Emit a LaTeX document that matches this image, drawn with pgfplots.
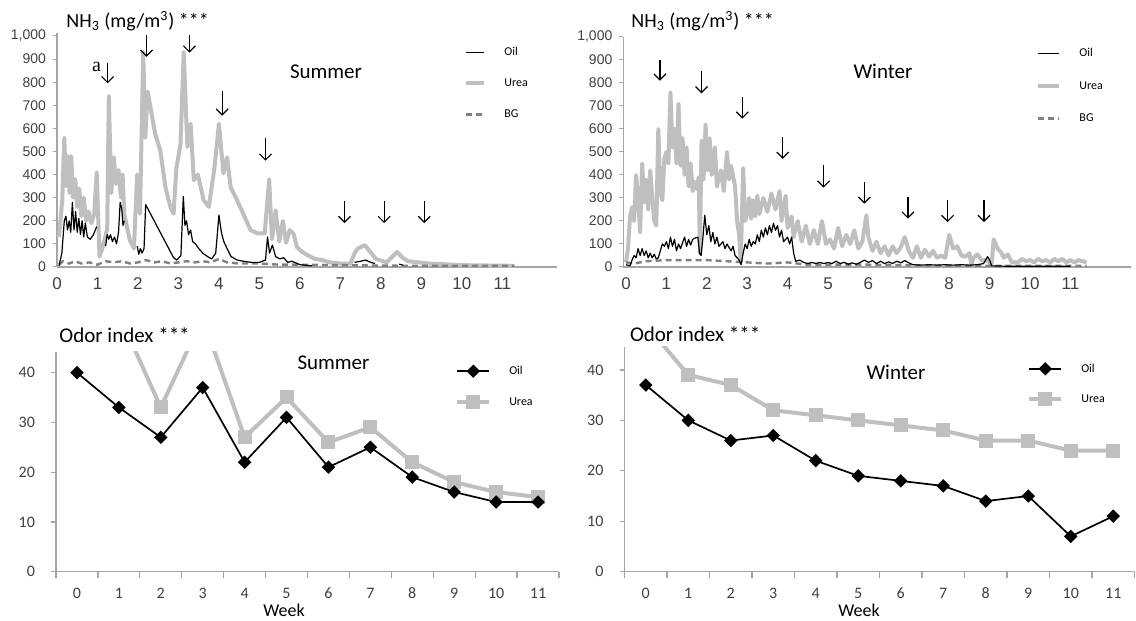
\documentclass[border=0pt]{standalone}
\usepackage{pgfplots}
\pgfplotsset{compat=1.18}
\usepackage{fontspec}
\setmainfont{Carlito}
\newfontfamily\arialf{Liberation Sans}
\newfontfamily\serff{Liberation Serif}
\usetikzlibrary{arrows.meta}
\definecolor{urea}{HTML}{BFBFBF}
\definecolor{bgc}{HTML}{808080}
\definecolor{axgray}{HTML}{A6A6A6}
\definecolor{txt}{HTML}{404040}

\tikzset{arr/.style={-{Straight Barb[length=3pt,width=6pt]}, line width=0.6pt, black}}
\pgfplotsset{
  legline/.initial=9pt,
  oilS/.style={black, line width=0.6pt, line join=round},
  ureaS/.style={urea, line width=2pt, line join=round},
  bgS/.style={bgc, line width=1.2pt, dash pattern=on 3pt off 2pt},
  nh3/.style={
    scale only axis, anchor=south west, clip=false,
    axis x line*=bottom, axis y line*=left,
    axis line style={axgray, line width=0.6pt},
    ymin=0, ytick={0,100,...,1000},
    xtick={0,...,11},
    major x tick style={draw=none},
    major y tick style={draw=axgray, line width=0.5pt},
    major tick length=2pt, tick align=outside,
    /pgf/number format/assume math mode=true,
    /pgf/number format/1000 sep={,},
    yticklabel style={font=\arialf\fontsize{7}{8}\selectfont, text=txt},
    xticklabel style={font=\arialf\fontsize{8.5}{9}\selectfont, text=txt},
    legend cell align=left,
    legend image code/.code={\draw[##1] (0pt,0pt) -- (\pgfkeysvalueof{/pgfplots/legline},0pt);},
    unbounded coords=jump,
  },
  odor/.style={
    scale only axis, anchor=south west, clip=true, clip marker paths=true,
    axis x line*=bottom, axis y line*=left,
    axis line style={axgray, line width=0.6pt},
    xmin=-0.5, xmax=11.5, ymin=0,
    ytick={0,10,...,40}, xtick={0,...,11},
    minor xtick={-0.5,0.5,...,11.5},
    major x tick style={draw=none},
    minor x tick style={draw=axgray, line width=0.6pt},
    major y tick style={draw=axgray, line width=0.6pt},
    major tick length=2.5pt, minor tick length=3pt, tick align=outside,
    /pgf/number format/assume math mode=true,
    yticklabel style={font=\fontsize{8}{9}\selectfont, text=txt, xshift=-4.5pt},
    xticklabel style={font=\fontsize{8}{9}\selectfont, text=txt, yshift=-2pt},
    legend cell align=left,
    legend image code/.code={\draw[mark repeat=2,mark phase=2,##1] plot coordinates {(0pt,0pt) (8pt,0pt) (16pt,0pt)};},
  },
  oilO/.style={black, line width=0.85pt, mark=square*, mark size=1.95pt, mark options={rotate=45, fill=black, solid}},
  ureaO/.style={urea, line width=2pt, mark=square*, mark size=2.5pt, mark options={fill=urea, solid}},
}

\begin{document}
\begin{tikzpicture}
\path[use as bounding box] (0,0) rectangle (568pt,310.5pt);

% ---------------- Summer NH3 ----------------
\begin{axis}[nh3, at={(28.5pt,177pt)}, width=250pt, height=117pt,
  xmin=0, xmax=12.35, ymax=1013,
  legend style={at={(axis description cs:0.814,0.940)}, anchor=north west, draw=none, fill=none,
    inner sep=0pt, row sep=10.5pt, column sep=9pt,
    nodes={inner sep=0pt, text height=4.2pt, text depth=0.8pt, font=\fontsize{6}{7}\selectfont}}]
\addlegendimage{oilS}\addlegendentry{Oil}
\addlegendimage{ureaS}\addlegendentry{Urea}
\addlegendimage{bgS}\addlegendentry{BG}
\addplot[ureaS, forget plot] table {
x y
0.05 130
0.13 290
0.18 560
0.22 350
0.27 480
0.31 320
0.35 480
0.40 300
0.45 380
0.50 260
0.55 340
0.60 220
0.66 300
0.72 200
0.78 240
0.85 190
0.92 230
0.98 410
1.05 45
1.12 80
1.24 165
1.28 740
1.34 320
1.40 475
1.46 360
1.52 420
1.58 300
1.62 400
1.66 230
1.72 180
1.80 115
1.90 80
1.98 400
2.05 230
2.13 930
2.18 560
2.24 760
2.32 680
2.42 580
2.55 505
2.68 345
2.80 260
2.88 230
2.95 430
3.05 530
3.13 930
3.22 520
3.30 620
3.38 375
3.48 400
3.62 290
3.75 260
3.89 430
4.00 620
4.11 405
4.20 475
4.29 345
4.42 300
4.60 230
4.78 160
4.96 145
5.13 145
5.24 380
5.31 120
5.40 245
5.49 110
5.58 200
5.66 105
5.75 160
5.84 145
5.93 85
6.06 65
6.20 50
6.37 35
6.55 30
6.73 20
7.00 15
7.25 15
7.35 60
7.43 80
7.60 95
7.74 65
7.88 35
8.14 20
8.40 65
8.54 40
8.67 25
9.20 15
10.00 8
11.30 5
};
\addplot[bgS, forget plot] table {
x y
0.05 10
0.15 25
0.30 15
0.45 25
0.60 15
0.80 20
1.00 10
1.20 25
1.40 20
1.60 25
1.80 15
2.00 20
2.20 30
2.40 20
2.60 25
2.80 15
3.00 20
3.20 25
3.40 20
3.60 25
3.80 20
4.00 35
4.20 20
4.50 15
5.00 15
5.50 10
6.00 10
7.00 8
8.00 6
9.00 5
10.00 5
11.30 5
};
\addplot[oilS, forget plot] table {
x y
0.05 5
0.12 60
0.18 200
0.22 220
0.26 160
0.30 200
0.34 150
0.38 280
0.42 160
0.46 240
0.50 150
0.54 210
0.58 140
0.62 200
0.66 130
0.70 190
0.75 130
0.82 120
0.90 140
0.98 175
1.00 nan
1.20 90
1.24 140
1.28 120
1.32 140
1.37 110
1.42 130
1.47 100
1.52 150
1.56 280
1.60 250
1.63 180
1.66 200
1.70 nan
1.98 90
2.02 55
2.06 80
2.10 60
2.15 80
2.19 270
2.88 40
2.96 30
3.06 50
3.12 305
3.16 180
3.20 200
3.25 140
3.30 160
3.35 110
3.42 100
3.50 80
3.60 60
3.72 45
3.82 35
3.92 60
4.00 225
4.06 150
4.12 110
4.20 80
4.30 45
4.45 30
4.60 25
4.80 20
5.00 20
5.15 30
5.20 130
5.25 60
5.32 95
5.40 45
5.50 35
5.60 40
5.70 20
5.80 25
6.00 10
6.30 5
6.50 nan
7.35 20
7.50 25
7.62 30
7.75 20
7.85 15
8.00 nan
8.45 12
8.55 8
};
\node[font=\serff\fontsize{10}{11}\selectfont] at (axis cs:0.98,867) {a};
\draw[arr] (axis cs:1.25,885) -- (axis cs:1.25,795);
\draw[arr] (axis cs:2.21,1005) -- (axis cs:2.21,910);
\draw[arr] (axis cs:3.27,1005) -- (axis cs:3.27,928);
\draw[arr] (axis cs:4.08,760) -- (axis cs:4.08,655);
\draw[arr] (axis cs:5.15,560) -- (axis cs:5.15,460);
\draw[arr] (axis cs:7.10,285) -- (axis cs:7.10,190);
\draw[arr] (axis cs:8.08,285) -- (axis cs:8.08,190);
\draw[arr] (axis cs:9.07,285) -- (axis cs:9.07,190);
\end{axis}

% ---------------- Winter NH3 ----------------
\begin{axis}[nh3, at={(311.7pt,177pt)}, width=253.8pt, height=115pt,
  xmin=-0.064, xmax=12.5, ymax=1000, legline=10.5pt,
  legend style={at={(axis description cs:0.813,0.952)}, anchor=north west, draw=none, fill=none,
    inner sep=0pt, row sep=11.25pt, column sep=9pt,
    nodes={inner sep=0pt, text height=4.2pt, text depth=0.8pt, font=\fontsize{6}{7}\selectfont}}]
\addlegendimage{oilS}\addlegendentry{Oil}
\addlegendimage{ureaS}\addlegendentry{Urea}
\addlegendimage{bgS}\addlegendentry{BG}
\addplot[ureaS, forget plot] table {
x y
0.00 20
0.05 80
0.10 220
0.15 260
0.20 200
0.25 400
0.30 300
0.35 150
0.40 450
0.45 280
0.50 380
0.55 250
0.60 420
0.65 300
0.70 200
0.75 180
0.80 600
0.85 330
0.90 290
0.95 470
1.00 500
1.05 450
1.10 760
1.15 520
1.20 600
1.25 450
1.30 710
1.35 440
1.40 560
1.45 400
1.50 520
1.55 350
1.60 450
1.65 330
1.70 370
1.75 340
1.80 390
1.83 60
1.87 550
1.92 380
1.97 620
2.02 420
2.07 560
2.12 400
2.20 520
2.25 350
2.35 420
2.42 330
2.50 500
2.55 380
2.60 440
2.70 350
2.75 200
2.80 140
2.84 20
2.90 430
2.95 200
3.00 230
3.05 300
3.10 210
3.15 290
3.20 220
3.25 310
3.30 230
3.40 300
3.50 240
3.60 320
3.70 250
3.80 330
3.85 200
3.95 310
4.00 170
4.10 220
4.15 130
4.25 200
4.35 110
4.45 180
4.55 100
4.65 160
4.75 100
4.85 200
4.95 100
5.05 120
5.15 80
5.25 170
5.35 90
5.45 140
5.55 100
5.65 160
5.75 80
5.85 110
5.95 225
6.00 130
6.10 70
6.20 110
6.30 60
6.40 90
6.50 50
6.60 90
6.70 60
6.80 85
6.90 130
7.00 70
7.10 40
7.20 90
7.30 40
7.40 75
7.50 45
7.60 70
7.70 40
7.80 50
7.90 40
8.00 140
8.05 110
8.10 80
8.20 90
8.30 50
8.40 45
8.50 60
8.55 10
8.60 40
8.70 55
8.80 30
8.90 30
9.00 20
9.05 10
9.10 120
9.20 80
9.30 60
9.35 40
9.45 55
9.55 20
9.70 20
9.80 35
9.90 25
10.00 30
10.10 20
10.20 35
10.30 25
10.40 30
10.50 20
10.60 35
10.70 25
10.80 35
10.90 20
11.00 30
11.10 20
11.20 30
11.40 20
};
\addplot[bgS, forget plot] table {
x y
0.00 20
0.20 15
0.50 25
1.00 30
1.50 30
2.00 30
2.50 25
3.00 20
3.50 15
4.00 20
4.50 10
5.00 10
6.00 10
7.00 8
8.00 6
9.00 5
10.00 5
11.40 5
};
\addplot[oilS, forget plot] table {
x y
0.00 10
0.10 5
0.15 30
0.20 50
0.25 40
0.30 80
0.35 50
0.40 80
0.45 50
0.50 70
0.55 40
0.60 60
0.65 40
0.70 55
0.75 35
0.80 40
0.85 70
0.90 100
0.95 90
1.00 110
1.05 80
1.10 130
1.15 90
1.20 120
1.25 70
1.30 100
1.35 80
1.45 130
1.50 90
1.55 120
1.60 95
1.65 120
1.70 125
1.78 130
1.82 60
1.86 50
1.90 120
1.95 225
2.00 140
2.05 180
2.10 110
2.15 150
2.20 100
2.25 130
2.30 90
2.40 110
2.45 80
2.50 100
2.60 70
2.65 90
2.70 50
2.80 30
2.85 10
2.90 60
2.95 100
3.00 80
3.05 120
3.10 90
3.15 110
3.20 100
3.25 140
3.30 110
3.35 160
3.40 130
3.45 170
3.50 140
3.55 180
3.60 150
3.65 190
3.70 160
3.75 180
3.80 130
3.85 160
3.90 110
4.00 130
4.05 100
4.10 130
4.15 60
4.20 25
4.30 30
4.40 20
4.50 15
4.60 20
4.70 15
4.80 20
4.90 15
5.00 20
5.10 15
5.20 25
5.30 15
5.40 20
5.50 12
5.60 18
5.70 12
5.80 20
5.90 30
6.00 20
6.10 28
6.20 15
6.30 25
6.40 15
6.50 22
6.60 15
6.70 25
6.80 18
6.90 28
7.00 18
7.10 10
7.30 8
7.50 10
7.70 8
7.90 10
8.10 8
8.30 10
8.50 8
8.70 10
8.85 15
8.95 45
9.00 30
9.05 5
9.50 3
10.00 3
11.00 3
};
\draw[arr] (axis cs:0.84,900) -- (axis cs:0.84,810);
\draw[arr] (axis cs:1.87,850) -- (axis cs:1.87,755);
\draw[arr] (axis cs:2.88,740) -- (axis cs:2.88,645);
\draw[arr] (axis cs:3.88,565) -- (axis cs:3.88,470);
\draw[arr] (axis cs:4.89,445) -- (axis cs:4.89,345);
\draw[arr] (axis cs:5.90,370) -- (axis cs:5.90,275);
\draw[arr] (axis cs:6.98,305) -- (axis cs:6.98,210);
\draw[arr] (axis cs:7.96,290) -- (axis cs:7.96,195);
\draw[arr] (axis cs:8.86,290) -- (axis cs:8.86,195);
\end{axis}

% ---------------- Summer odor ----------------
\begin{axis}[odor, at={(28pt,24.65pt)}, width=251.5pt, height=110pt, ymax=44.2,
  legend style={at={(axis description cs:0.793,0.938)}, anchor=north west, draw=none, fill=none,
    inner sep=0pt, row sep=10pt, column sep=9pt,
    nodes={inner sep=0pt, text height=4.2pt, text depth=0.8pt, font=\fontsize{6}{7}\selectfont}}]
\addlegendimage{oilO}\addlegendentry{Oil}
\addlegendimage{ureaO}\addlegendentry{Urea}
\addplot[ureaO, forget plot] coordinates {(0,48) (1,51.7) (2,33) (3,51) (4,27) (5,35) (6,26) (7,29) (8,22) (9,18) (10,16) (11,15)};
\addplot[oilO, forget plot] coordinates {(0,40) (1,33) (2,27) (3,37) (4,22) (5,31) (6,21) (7,25) (8,19) (9,16) (10,14) (11,14)};
\end{axis}

% ---------------- Winter odor ----------------
\begin{axis}[odor, at={(312.25pt,24.65pt)}, width=255pt, height=112.5pt, ymax=44.6,
  legend style={at={(axis description cs:0.789,0.928)}, anchor=north west, draw=none, fill=none,
    inner sep=0pt, row sep=9.9pt, column sep=9pt,
    nodes={inner sep=0pt, text height=4.2pt, text depth=0.8pt, font=\fontsize{6}{7}\selectfont}}]
\addlegendimage{oilO}\addlegendentry{Oil}
\addlegendimage{ureaO}\addlegendentry{Urea}
\addplot[ureaO, forget plot] coordinates {(0,49) (1,39) (2,37) (3,32) (4,31) (5,30) (6,29) (7,28) (8,26) (9,26) (10,24) (11,24)};
\addplot[oilO, forget plot] coordinates {(0,37) (1,30) (2,26) (3,27) (4,22) (5,19) (6,18) (7,17) (8,14) (9,15) (10,7) (11,11)};
\end{axis}

% ---------------- texts ----------------
\node[anchor=west, inner sep=0pt, font=\fontsize{10}{12}\selectfont] at (33pt,300pt) {NH\textsubscript{3} (mg/m\textsuperscript{3}) ***};
\node[anchor=west, inner sep=0pt, font=\fontsize{10}{12}\selectfont] at (315.5pt,300pt) {NH\textsubscript{3} (mg/m\textsuperscript{3}) ***};
\node[font=\fontsize{10.5}{12}\selectfont] at (163pt,274.5pt) {Summer};
\node[font=\fontsize{10.5}{12}\selectfont] at (441.5pt,275pt) {Winter};
\node[anchor=west, inner sep=0pt, font=\fontsize{10.5}{12}\selectfont] at (29.5pt,143pt) {Odor index ***};
\node[anchor=west, inner sep=0pt, font=\fontsize{10.5}{12}\selectfont] at (314.8pt,143.5pt) {Odor index ***};
\node[font=\fontsize{10.5}{12}\selectfont] at (166.75pt,129pt) {Summer};
\node[font=\fontsize{10.5}{12}\selectfont] at (448pt,124.5pt) {Winter};
\node[font=\fontsize{9}{10}\selectfont] at (142pt,5.5pt) {Week};
\node[font=\fontsize{9}{10}\selectfont] at (429.5pt,5.5pt) {Week};
\end{tikzpicture}
\end{document}
